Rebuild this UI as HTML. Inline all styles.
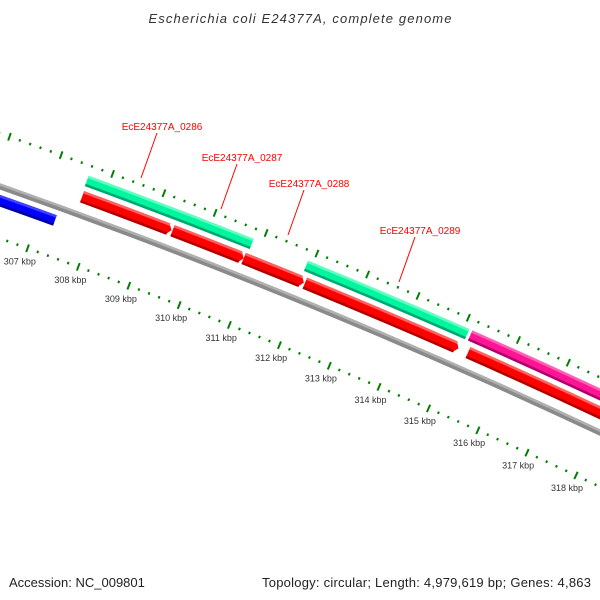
<!DOCTYPE html>
<html><head><meta charset="utf-8"><style>
html,body{margin:0;padding:0;background:#fff;width:600px;height:600px;overflow:hidden;}
svg{display:block;font-family:"Liberation Sans",sans-serif;}
</style></head><body>
<svg id="chart" width="600" height="600" viewBox="0 0 600 600" xmlns="http://www.w3.org/2000/svg">
<defs><clipPath id="clip"><rect x="0" y="30" width="600" height="540"/></clipPath></defs>
<text x="300" y="23" text-anchor="middle" font-size="13" font-style="italic" fill="#333" textLength="303" lengthAdjust="spacing">Escherichia coli E24377A, complete genome</text>
<g id="map" clip-path="url(#clip)"></g>
<text x="9" y="587" font-size="13" fill="#222">Accession: NC_009801</text>
<text x="591" y="587" text-anchor="end" font-size="13" fill="#222" textLength="329" lengthAdjust="spacing">Topology: circular; Length: 4,979,619 bp; Genes: 4,863</text>
</svg>
<script>
// data (kbp)
const featStart = [300.0, 307.62, 309.39, 310.79, 312.0, 315.25, 307.6, 311.9, 315.16];
const featEnd   = [307.3, 309.37, 310.79, 311.98, 315.06, 325.0, 310.83, 315.1, 325.0];
const featTrack = ["rev", "cds", "cds", "cds", "cds", "cds", "gene", "gene", "other"];
const featNames = ["blue-feature", "cds-0286", "cds-0287", "cds-0288", "cds-0289", "cds-next", "gene-0286", "gene-0289", "magenta-feature"];
const tickStart = 303;
const tickEnd = 321;
const tickStep = 0.2;
const tickLabels = [307, 308, 309, 310, 311, 312, 313, 314, 315, 316, 317, 318];
const geneLabels = ["EcE24377A_0286", "EcE24377A_0287", "EcE24377A_0288", "EcE24377A_0289"];
const geneLabelX = [162, 242, 309, 420];
const geneLabelY = [130, 161, 187, 234];

// geometry
const NS = "http://www.w3.org/2000/svg";
const R0 = 6400, CX = -2126, CY = 6223, P0 = 312.5, A0 = 22.5, K = 0.487;
function ang(p){ return (A0 + K*(p-P0)) * Math.PI/180; }
function pt(p, d){ const a = ang(p), r = R0 + d; return [CX + r*Math.sin(a), CY - r*Math.cos(a)]; }
const map = document.getElementById('map');
function f(v){ return v.toFixed(2); }
function band(p1, p2, d1, d2, fill, arrow){
  const a = pt(p1, d2), c = pt(p2, d1), dd = pt(p1, d1);
  let s;
  if (arrow){
    const ah = 0.08, pe = p2 - ah, b = pt(pe, d2), tip = pt(p2, (d1+d2)/2), c2 = pt(pe, d1);
    s = `M${f(a[0])},${f(a[1])} A${R0+d2},${R0+d2} 0 0 1 ${f(b[0])},${f(b[1])} L${f(tip[0])},${f(tip[1])} L${f(c2[0])},${f(c2[1])} A${R0+d1},${R0+d1} 0 0 0 ${f(dd[0])},${f(dd[1])} Z`;
  } else {
    const b = pt(p2, d2);
    s = `M${f(a[0])},${f(a[1])} A${R0+d2},${R0+d2} 0 0 1 ${f(b[0])},${f(b[1])} L${f(c[0])},${f(c[1])} A${R0+d1},${R0+d1} 0 0 0 ${f(dd[0])},${f(dd[1])} Z`;
  }
  const e = document.createElementNS(NS, 'path');
  e.setAttribute('d', s); e.setAttribute('fill', fill);
  return e;
}
function group(name){
  const g = document.createElementNS(NS, 'g');
  
  
  map.appendChild(g); return g;
}
// backbone
const bb = group('backbone');
bb.appendChild(band(295, 330, -3, 3, '#8a8a8a'));
bb.appendChild(band(295, 330, 0.5, 3, '#b0b0b0'));

// features
const styles = {
  rev:   {d1:-19, d2:-8, c:'#0000ff', hi:'#4040ff', lo:'#0000a0', arrow:false},
  cds:   {d1:12, d2:24, c:'#ff0000', hi:'#ff6060', lo:'#b00000', arrow:true},
  gene:  {d1:29, d2:40, c:'#00f5a0', hi:'#60ffc0', lo:'#00a870', arrow:false},
  other: {d1:29, d2:40, c:'#ff1493', hi:'#ff60b8', lo:'#b00070', arrow:false}
};
for (let i = 0; i < featStart.length; i++){
  const st = styles[featTrack[i]];
  const g = group(featNames[i]);
  
  g.appendChild(band(featStart[i], featEnd[i], st.d1, st.d2, st.c, st.arrow));
  g.appendChild(band(featStart[i], featEnd[i] - (st.arrow?0.06:0), st.d2-2.5, st.d2, st.hi, false));
  g.appendChild(band(featStart[i], featEnd[i] - (st.arrow?0.06:0), st.d1, st.d1+2.5, st.lo, false));
}

// ticks
const ticks = group('tick-marks');
const nT = Math.round((tickEnd - tickStart)/tickStep);
for (let i = 0; i <= nT; i++){
  const p = tickStart + i*tickStep;
  const major = Math.abs(p - Math.round(p)) < 1e-6;
  const len = major ? 8 : 2.5;
  [50, -49].forEach(dc => {
    const a = pt(p, dc - len/2), b = pt(p, dc + len/2);
    const l = document.createElementNS(NS, 'line');
    
    
    l.setAttribute('x1', f(a[0])); l.setAttribute('y1', f(a[1]));
    l.setAttribute('x2', f(b[0])); l.setAttribute('y2', f(b[1]));
    l.setAttribute('stroke', '#008000'); l.setAttribute('stroke-width', '2');
    ticks.appendChild(l);
  });
}
const tl = group('tick-labels');
tickLabels.forEach(v => {
  const q = pt(v, -63);
  const t = document.createElementNS(NS, 'text');
  
  
  t.setAttribute('x', f(q[0] - 3)); t.setAttribute('y', f(q[1] + 3));
  t.setAttribute('text-anchor', 'middle'); t.setAttribute('font-size', '9'); t.setAttribute('fill', '#333');
  t.textContent = v + ' kbp';
  tl.appendChild(t);
});
// gene labels
const gl = group('gene-labels');
geneLabels.forEach((name, i) => {
  const x = geneLabelX[i], y = geneLabelY[i];
  const l = document.createElementNS(NS, 'line');
  
  
  l.setAttribute('x1', x - 5); l.setAttribute('y1', y + 3);
  l.setAttribute('x2', x - 21); l.setAttribute('y2', y + 48);
  l.setAttribute('stroke', '#ff0000'); l.setAttribute('stroke-width', '1');
  gl.appendChild(l);
  const t = document.createElementNS(NS, 'text');
  
  
  t.setAttribute('x', x); t.setAttribute('y', y);
  t.setAttribute('text-anchor', 'middle'); t.setAttribute('font-size', '10'); t.setAttribute('fill', '#ff0000');
  t.textContent = name;
  gl.appendChild(t);
});
</script>
</body></html>
